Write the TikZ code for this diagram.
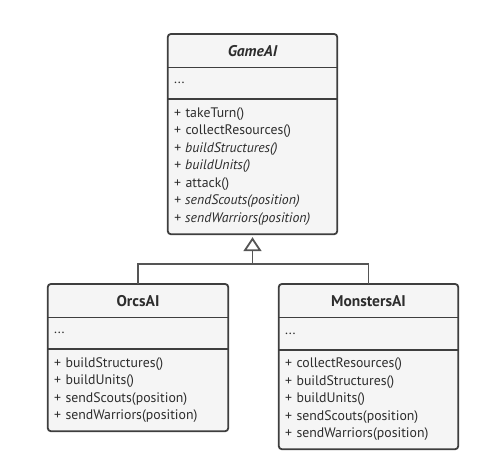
\documentclass[tikz,border=0pt]{standalone}
\usepackage{fontspec}
\setmainfont{PT Sans}
\usetikzlibrary{positioning}
\usetikzlibrary{arrows.meta}
\usetikzlibrary{backgrounds}
\definecolor{boxfill}{RGB}{245,245,245}
\definecolor{boxline}{RGB}{62,62,62}
\definecolor{textcol}{RGB}{45,45,45}
\definecolor{linkcol}{RGB}{85,85,85}

\begin{document}
\begin{tikzpicture}[
  x=1pt, y=-1pt,
  font=\fontsize{13.8}{17.5}\selectfont, text=textcol,
  part/.style={inner xsep=6pt, inner ysep=0pt, align=left, anchor=north},
  head/.style={part, align=center, font=\fontsize{15.5}{17}\selectfont\bfseries, minimum height=33pt},
  attr/.style={part, minimum height=31pt},
  frame/.style={draw=boxline, fill=boxfill, line width=1.8pt, rounded corners=3pt},
  sep/.style={draw=boxline, line width=1.8pt},
  ar/.style={draw=linkcol, line width=1.8pt}
]
\useasboundingbox (0,0) rectangle (480,458);

% abstract class
\node[head, text width=157pt] (gameHead) at (252.5,34) {\itshape GameAI};
\node[attr, text width=157pt, below=0pt of gameHead] (gameAttr) {...};
\node[part, text width=157pt, minimum height=135pt, below=0pt of gameAttr] (gameOps)
  {+ takeTurn()\\
   + collectResources()\\
   \textit{+ buildStructures()}\\
   \textit{+ buildUnits()}\\
   + attack()\\
   \textit{+ sendScouts(position)}\\
   \textit{+ sendWarriors(position)}};

% subclasses
\node[head, text width=168pt] (orcsHead) at (138,284) {OrcsAI};
\node[attr, text width=168pt, below=0pt of orcsHead] (orcsAttr) {...};
\node[part, text width=168pt, minimum height=82pt, below=0pt of orcsAttr] (orcsOps)
  {+ buildStructures()\\
   + buildUnits()\\
   + sendScouts(position)\\
   + sendWarriors(position)};

\node[head, text width=167pt] (monstersHead) at (368.5,284) {MonstersAI};
\node[attr, text width=167pt, minimum height=32pt, below=0pt of monstersHead] (monstersAttr) {...};
\node[part, text width=167pt, minimum height=99pt, below=0pt of monstersAttr] (monstersOps)
  {+ collectResources()\\
   + buildStructures()\\
   + buildUnits()\\
   + sendScouts(position)\\
   + sendWarriors(position)};

\begin{scope}[on background layer]
  \draw[frame] (gameHead.north west) rectangle (gameOps.south east);
  \draw[frame] (orcsHead.north west) rectangle (orcsOps.south east);
  \draw[frame] (monstersHead.north west) rectangle (monstersOps.south east);
\end{scope}
\draw[sep] (gameHead.south west) -- (gameHead.south east);
\draw[sep] (gameAttr.south west) -- (gameAttr.south east);
\draw[sep] (orcsHead.south west) -- (orcsHead.south east);
\draw[sep] (orcsAttr.south west) -- (orcsAttr.south east);
\draw[sep] (monstersHead.south west) -- (monstersHead.south east);
\draw[sep] (monstersAttr.south west) -- (monstersAttr.south east);

% inheritance
\coordinate (fork) at (252.5,264);
\draw[ar] (orcsHead.north) |- (fork) -| (monstersHead.north);
\draw[ar, -{Triangle[open, length=14pt, width=18pt]}, shorten >=3pt] (fork) -- (gameOps.south);
\end{tikzpicture}
\end{document}
